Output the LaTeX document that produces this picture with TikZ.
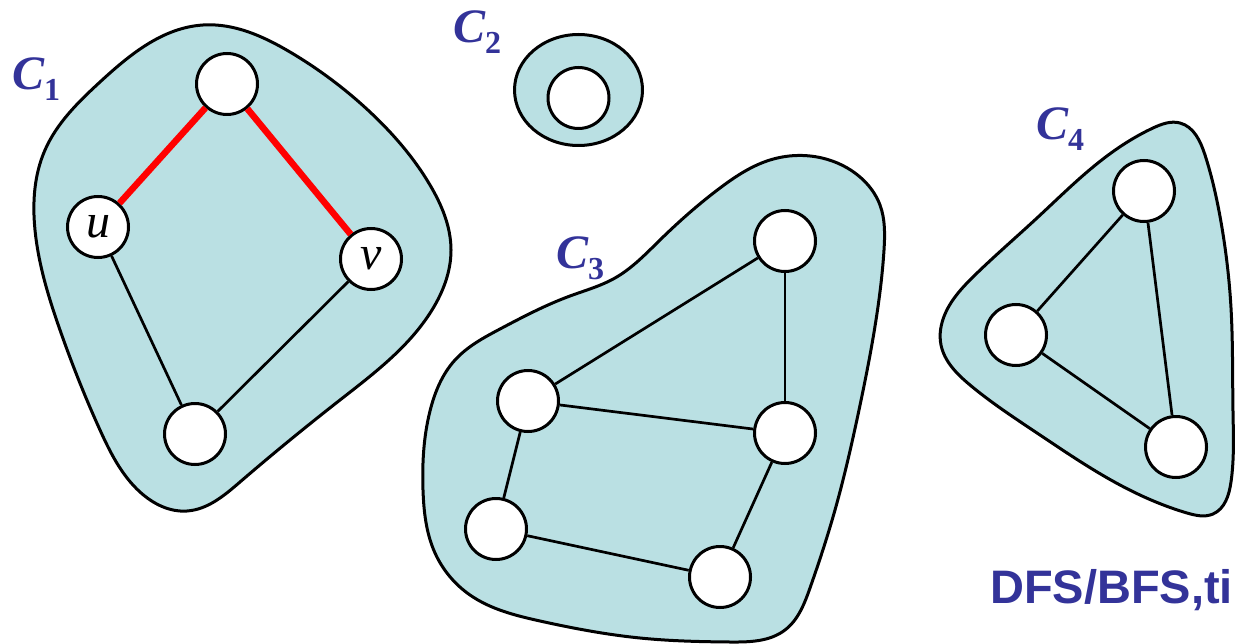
\documentclass[tikz,border=0pt]{standalone}
\usepackage{fontspec}
\setmainfont{Liberation Serif}
\newfontfamily\labsans{Liberation Sans}
\usetikzlibrary{hobby}
\definecolor{blobfill}{RGB}{186,224,227}
\definecolor{labblue}{RGB}{51,51,153}
\newcommand{\complab}[1]{{\fontsize{48}{48}\selectfont\bfseries\itshape C\raisebox{-11pt}{\fontsize{32}{32}\selectfont\upshape #1}}}
\begin{document}
\begin{tikzpicture}[x=1pt,y=-1pt,
  blob/.style={draw=black,line width=3pt,fill=blobfill},
  vert/.style={circle,draw=black,line width=3pt,fill=white,minimum size=61pt,inner sep=0pt,font=\fontsize{48}{48}\selectfont\itshape},
  edge/.style={draw=black,line width=2.7pt},
  redge/.style={draw=red,line width=6.5pt},
  clabel/.style={anchor=base west,inner sep=0pt,text=labblue}]
\useasboundingbox (0,0) rectangle (1236,644);
% blobs
\draw[blob] plot[closed hobby] coordinates {(203,25) (290,52) (370,112) (430,185) (451,250) (432,310) (340,400) (240,482) (187,511) (140,492) (100,430) (60,330) (35,230) (45,150) (100,82)};
\draw[blob] (578.5,90) ellipse [x radius=64, y radius=55.5];
\draw[blob] plot[closed hobby] coordinates {(615,278) (660,240) (720,188) (770,160) (822,158) (860,177) (880,205) (884,250) (876,320) (859,410) (835,510) (810,588) (785,630) (730,642) (640,638) (540,621) (470,595) (435,553) (423,490) (430,411) (455,360) (500,329) (570,296)};
\draw[blob] plot[closed hobby] coordinates {(1180,123) (1205,155) (1221,222) (1231,308) (1233,412) (1231,482) (1213,514) (1187,513) (1120,485) (1037,433) (970,385) (941,345) (945,314) (975,275) (1037,218) (1103,159) (1153,128)};
% C1 nodes
\node[vert] (a1) at (227,84) {};
\node[vert] (u) at (98,227) {u};
\node[vert] (v) at (371,259) {v};
\node[vert] (a4) at (195,434) {};
\draw[redge] (a1) -- (u);
\draw[redge] (a1) -- (v);
\draw[edge] (u) -- (a4);
\draw[edge] (v) -- (a4);
% C2 node
\node[vert] (b1) at (578.5,98) {};
% C3 nodes
\node[vert] (c1) at (785,241) {};
\node[vert] (c2) at (528,401) {};
\node[vert] (c3) at (785,433) {};
\node[vert] (c4) at (496,529) {};
\node[vert] (c5) at (720,577) {};
\draw[edge] (c1) -- (c2);
\draw[edge] (c1) -- (c3);
\draw[edge] (c2) -- (c3);
\draw[edge] (c2) -- (c4);
\draw[edge] (c4) -- (c5);
\draw[edge] (c5) -- (c3);
% C4 nodes
\node[vert] (d1) at (1144,191) {};
\node[vert] (d2) at (1016,335) {};
\node[vert] (d3) at (1176,447) {};
\draw[edge] (d1) -- (d2);
\draw[edge] (d1) -- (d3);
\draw[edge] (d2) -- (d3);
% labels
\node[clabel] (l1) at (12,90) {\complab{1}};
\node[clabel] (l2) at (453,43) {\complab{2}};
\node[clabel] (l3) at (556,269) {\complab{3}};
\node[clabel] (l4) at (1036,140) {\complab{4}};
\node[anchor=base west,inner sep=0pt,text=labblue,font=\labsans\bfseries\fontsize{47}{47}\selectfont] (dfs) at (990,603) {DFS/BFS,ti};
\end{tikzpicture}
\end{document}
